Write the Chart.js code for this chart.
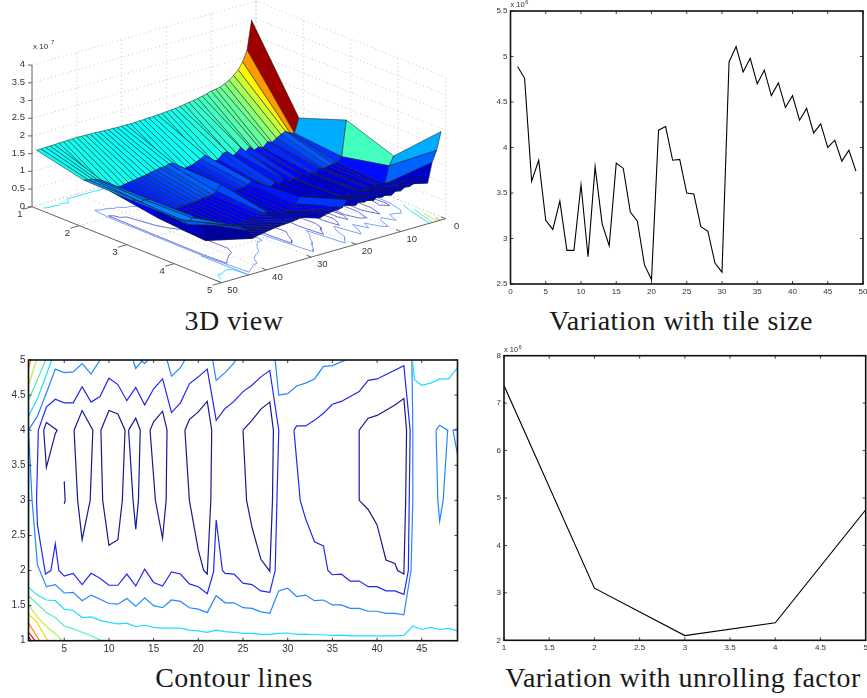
<!DOCTYPE html>
<html>
<head>
<meta charset="utf-8">
<title>Tile size and unrolling factor</title>
<script src="https://cdn.jsdelivr.net/npm/chart.js@4"></script>
<style>
  html, body { margin: 0; background: #fff; overflow: hidden; }
  #page { position: relative; width: 867px; height: 698px; }
  canvas { position: absolute; filter: blur(0.35px); }
  .caption { position: absolute; font-family: "Liberation Serif", serif; font-size: 28px; letter-spacing: 0.45px; color: #1a1a1a; white-space: nowrap; transform: translateX(-50%); }
</style>
</head>
<body>
<div id="page">
  <canvas id="view3d" width="470" height="300" style="left:0;top:0"></canvas>
  <canvas id="tileChart" width="377" height="300" style="left:490px;top:0"></canvas>
  <canvas id="contourChart" width="470" height="315" style="left:0;top:345px"></canvas>
  <canvas id="unrollChart" width="387" height="320" style="left:480px;top:340px"></canvas>
  <div class="caption" style="left:234px;top:305px">3D view</div>
  <div class="caption" style="left:681px;top:305px">Variation with tile size</div>
  <div class="caption" style="left:234px;top:662px">Contour lines</div>
  <div class="caption" style="left:683px;top:662px">Variation with unrolling factor</div>
</div>
<script>
// line plots, values in units of 1e6
const tileValues = [4.89, 4.76, 3.63, 3.86, 3.2, 3.1, 3.41, 2.87, 2.87, 3.59, 2.8, 3.79, 3.16, 2.92, 3.83, 3.77, 3.29, 3.19, 2.71, 2.55,
    4.19, 4.23, 3.86, 3.87, 3.5, 3.49, 3.13, 3.08, 2.73, 2.63, 4.94, 5.11, 4.83, 4.98, 4.7, 4.85, 4.57, 4.71, 4.44, 4.57,
    4.3, 4.43, 4.16, 4.26, 4.0, 4.08, 3.85, 3.97, 3.74]
const tileXTicks = [0, 5, 10, 15, 20, 25, 30, 35, 40, 45, 50]
const tileYTicks = [2.5, 3, 3.5, 4, 4.5, 5, 5.5]

const unrollFactors = [1, 2, 3, 4, 5]
const unrollValues = [7.37, 3.1, 2.1, 2.37, 4.75]
const unrollXTicks = [1, 1.5, 2, 2.5, 3, 3.5, 4, 4.5, 5]
const unrollYTicks = [2, 3, 4, 5, 6, 7, 8]

// surface heights in units of 1e7, one list per unrolling factor, tile size 1 to 49
const surfaceRow1 = [3.5, 2.69, 2.39, 2.2, 2.08, 1.98, 1.92, 1.86, 1.84, 1.82, 1.78, 1.75, 1.72, 1.7, 1.68, 1.66, 1.64, 1.62, 1.61, 1.6,
    1.59, 1.58, 1.57, 1.57, 1.56, 1.56, 1.55, 1.55, 1.55, 1.55, 1.55, 1.56, 1.56, 1.57, 1.57, 1.58, 1.58, 1.59, 1.59, 1.6,
    1.59, 1.59, 1.58, 1.58, 1.57, 1.57, 1.57, 1.56, 1.56]
const surfaceRow2 = [1.27, 0.875, 0.92, 1.0, 0.95, 0.88, 0.8, 0.85, 0.72, 0.78, 0.72, 0.85, 0.74, 0.9, 0.78, 0.72, 0.9, 0.88, 0.75, 0.72,
    0.68, 0.98, 0.9, 0.85, 0.8, 0.78, 0.75, 0.72, 1.0, 1.02, 0.98, 0.98, 0.95, 0.93, 0.9, 0.88, 0.86, 0.84, 0.82, 0.8,
    0.78, 0.76, 0.72, 0.85, 1.1, 1.15, 1.2, 1.22, 1.25]
const surfaceRow3 = [1.75, 0.75, 0.62, 0.62, 0.6, 0.56, 0.6, 0.5, 0.54, 0.48, 0.58, 0.48, 0.54, 0.46, 0.58, 0.48, 0.56, 0.48, 0.54, 0.52,
    0.54, 0.78, 0.72, 0.68, 0.66, 0.64, 0.62, 0.6, 0.95, 0.78, 0.72, 0.7, 0.7, 0.68, 0.66, 0.66, 0.64, 0.64, 0.62, 0.62,
    0.6, 0.6, 0.5, 0.85, 1.1, 1.12, 1.1, 1.18, 1.22]
const surfaceRow4 = [1.27, 1.03, 0.55, 0.56, 0.6, 0.54, 0.58, 0.52, 0.56, 0.5, 0.6, 0.5, 0.56, 0.48, 0.58, 0.5, 0.62, 0.54, 0.6, 0.56,
    0.6, 0.88, 0.72, 0.66, 0.6, 0.58, 0.56, 0.54, 0.68, 0.7, 0.7, 0.68, 0.64, 0.62, 0.6, 0.58, 0.56, 0.55, 0.55, 0.54,
    0.52, 0.5, 0.4, 0.92, 1.12, 1.15, 1.0, 1.15, 1.22]
const surfaceRow5 = [2.5, 2.0, 1.7, 1.15, 1.36, 1.3, 1.25, 1.2, 1.22, 1.15, 1.2, 1.1, 1.2, 1.12, 1.2, 1.1, 1.2, 1.12, 1.22, 1.1,
    1.3, 1.33, 1.15, 1.12, 1.12, 1.1, 1.08, 1.03, 1.25, 1.22, 1.2, 1.2, 1.18, 1.16, 1.15, 1.14, 1.13, 1.12, 1.1, 1.08,
    1.06, 1.04, 1.0, 1.25, 1.35, 1.45, 1.5, 1.55, 1.6]
const surfaceRows = [surfaceRow1, surfaceRow2, surfaceRow3, surfaceRow4, surfaceRow5]

const view3dXTicks = [1, 2, 3, 4, 5]
const view3dYTicks = [0, 10, 20, 30, 40, 50]
const view3dZTicks = [0, 0.5, 1, 1.5, 2, 2.5, 3, 3.5, 4]

// contour lines as [tile size, unrolling factor]
const contourDarkRed = [[1, 1.06], [1.3, 1]]
const contourRed = [[1, 1.12], [1.75, 1]]
const contourOrange = [[1, 1.25], [2.25, 1]]
const contourOrangeTop = [[1.25, 5], [1, 4.88]]
const contourYellow = [[1, 1.38], [2, 1.25], [3.15, 1]]
const contourLime = [[1, 1.51], [2, 1.34], [3, 1.2], [4, 1.1], [4.8, 1]]
const contourLimeTop = [[1.9, 5], [1, 4.64]]
const contourMint = [[1, 1.64], [2, 1.52], [3, 1.4], [4, 1.33], [5, 1.21], [6, 1.17], [7, 1.12], [8, 1.07], [9, 1.01], [10, 1]]
const contourMintTop = [[2.9, 5], [2, 4.72], [1, 4.43]]
const contourCyan = [[1, 1.76], [2, 1.65], [3, 1.58], [4, 1.57], [5, 1.45], [6, 1.43], [7, 1.33], [8, 1.34], [9, 1.29], [10, 1.26],
    [11, 1.24], [12, 1.25], [13, 1.2], [14, 1.22], [15, 1.19], [16, 1.18], [17, 1.18], [18, 1.18], [19, 1.15], [20, 1.14],
    [21, 1.12], [22, 1.15], [23, 1.13], [24, 1.12], [25, 1.105], [26, 1.105], [27, 1.09], [28, 1.09], [29, 1.105], [30, 1.11],
    [31, 1.09], [32, 1.095], [33, 1.085], [34, 1.085], [35, 1.075], [36, 1.08], [37, 1.07], [38, 1.07], [39, 1.07], [40, 1.07],
    [41, 1.07], [42, 1.07], [43, 1.075], [44, 1.21], [45, 1.16], [46, 1.19], [47, 1.16], [48, 1.175], [49, 1.14]]
const contourCyanTop = [[3.6, 5], [3, 4.79], [2, 4.45], [1, 4.2]]
const contourCyanSide = [[1, 3.46], [1.05, 3], [1, 2.55]]
const contourCyanRight = [[43.95, 5], [44.2, 4.72], [45, 4.64], [46, 4.67], [47, 4.73], [48, 4.73], [49, 4.89]]
const contourAzure = [[9, 5], [8, 4.8], [7, 4.95], [6, 4.83], [5, 4.82], [4, 4.87], [3, 4.53], [2, 4.2], [1, 4], [1.4, 3], [2, 2.08], [3, 1.77], [4, 1.8],
    [5, 1.68], [6, 1.69], [7, 1.57], [8, 1.65], [9, 1.59], [10, 1.53], [11, 1.52], [12, 1.6], [13, 1.49], [14, 1.61],
    [15, 1.5], [16, 1.47], [17, 1.58], [18, 1.56], [19, 1.47], [20, 1.45], [21, 1.4], [22, 1.64], [23, 1.54], [24, 1.54],
    [25, 1.47], [26, 1.46], [27, 1.41], [28, 1.39], [29, 1.71], [30, 1.75], [31, 1.63], [32, 1.65], [33, 1.57], [34, 1.58],
    [35, 1.51], [36, 1.51], [37, 1.46], [38, 1.46], [39, 1.42], [40, 1.42], [41, 1.39], [42, 1.39], [43, 1.37], [43.8, 2],
    [44, 3], [44, 4], [43.9, 5]]
const contourAzureA = [[12.7, 5], [13, 4.88], [13.8, 5]]
const contourAzureB = [[13.5, 5], [14, 4.95], [14.4, 5]]
const contourAzureC = [[16.5, 5], [17, 4.77], [18, 4.89], [18.5, 5]]
const contourAzureD = [[21.6, 5], [22, 4.71], [23, 4.82], [24, 4.96], [24.2, 5]]
const contourAzureE = [[28.6, 5], [29, 4.5], [30, 4.52], [31, 4.63], [32, 4.67], [33, 4.73], [34, 4.91], [35, 4.92], [36.5, 5]]
const contourAzureF = [[46.6, 4], [47, 4.07], [47.9, 4], [47.4, 3], [47, 2.7], [46.8, 3], [46.6, 4]]
const contourAzureG = [[49, 4.02], [48.5, 4], [49, 3.65]]
const contourDeep = [[2.1, 4], [3, 4.33], [4, 4.44], [5, 4.39], [6, 4.39], [7, 4.62], [8, 4.4], [9, 4.48], [10, 4.74], [11, 4.65],
    [12, 4.42], [13, 4.61], [14, 4.36], [15, 4.59], [16, 4.73], [17, 4.25], [18, 4.39], [19, 4.66], [20, 4.76], [21, 4.87],
    [22, 4.14], [23, 4.31], [24, 4.41], [25, 4.55], [26, 4.64], [27, 4.76], [28, 4.85], [29, 4], [28.8, 3], [28.6, 2],
    [28, 1.69], [27, 1.71], [26, 1.8], [25, 1.82], [24, 1.95], [23, 1.96], [22.7, 2], [22, 2.72], [21.7, 1.98], [21, 1.67],
    [20, 1.77], [19, 1.81], [18, 1.95], [17, 1.98], [16, 1.78], [15, 1.83], [14, 2.02], [13, 1.78], [12, 1.95], [11, 1.79],
    [10, 1.79], [9, 1.89], [8, 1.96], [7, 1.8], [6, 1.96], [5, 1.92], [4.4, 2], [4, 2.38], [3.5, 2], [2.9, 1.95],
    [2, 2.65], [1.9, 3], [2.1, 4]]
const contourDeepRight = [[30.7, 4], [31, 4.06], [32, 4.06], [33, 4.14], [34, 4.24], [35, 4.37], [36, 4.41], [38, 4.55], [39, 4.71], [40, 4.73],
    [43, 4.92], [43.7, 4], [43.6, 3], [43.5, 2], [43, 1.66], [42, 1.71], [41, 1.71], [40, 1.77], [39, 1.77], [38, 1.85],
    [37, 1.85], [36, 1.95], [35, 1.94], [34.5, 2], [34, 2.35], [33, 2.41], [32, 2.74], [31.4, 3], [30.7, 4]]
const contourNavy1 = [[2.7, 4], [3, 4.11], [4.2, 4], [4, 3.95], [3, 3.47], [2.7, 4]]
const contourNavy2 = [[5, 3.27], [5.1, 3], [5, 2.95]]
const contourNavy3 = [[6.1, 4], [7, 4.28], [8.2, 4], [7.9, 3], [7, 2.44], [6.5, 3], [6.1, 4]]
const contourNavy4 = [[9.1, 4], [10, 4.28], [11, 4.23], [11.8, 4], [11.5, 3], [11, 2.44], [10, 2.36], [9.3, 3], [9.1, 4]]
const contourNavy5 = [[12.2, 4], [13, 4.17], [13.5, 4], [13.3, 3], [13, 2.59], [12.7, 3], [12.2, 4]]
const contourNavy6 = [[14.6, 4], [15, 4.12], [16, 4.27], [16.5, 4], [16.4, 3], [16, 2.46], [15.2, 3], [14.6, 4]]
const contourNavy7 = [[18.5, 4], [19, 4.15], [20, 4.26], [21, 4.41], [21.5, 4], [21.4, 3], [21, 1.95], [20.6, 2], [20, 2.29], [19, 3], [18.5, 4]]
const contourNavy8 = [[25, 4], [26, 4.14], [27, 4.3], [28, 4.4], [28.4, 4], [28.3, 3], [28, 1.99], [27, 2.16], [26, 2.62], [25.4, 3], [25, 4]]
const contourNavy9 = [[38, 4], [39, 4.17], [40, 4.21], [42, 4.36], [43, 4.45], [43.3, 4], [43.2, 3], [43, 1.95], [42.3, 2], [42, 2.1],
    [41, 2.15], [40, 2.65], [39, 2.87], [38, 3], [38, 4]]
const contourXTicks = [5, 10, 15, 20, 25, 30, 35, 40, 45]
const contourYTicks = [1, 1.5, 2, 2.5, 3, 3.5, 4, 4.5, 5]

const DARKRED = '#8a0000', RED = '#f01010', ORANGE = '#ff8000', YELLOW = '#ffd800', LIME = '#b8f040',
    MINT = '#50f0b0', CYAN = '#20dcff', AZURE = '#2088ff', DEEP = '#2028f0', NAVY = '#181890'

const contourLines = [
    [contourDarkRed, DARKRED], [contourRed, RED], [contourOrange, ORANGE], [contourOrangeTop, ORANGE], [contourYellow, YELLOW],
    [contourLime, LIME], [contourLimeTop, LIME], [contourMint, MINT], [contourMintTop, MINT],
    [contourCyan, CYAN], [contourCyanTop, CYAN], [contourCyanSide, CYAN], [contourCyanRight, CYAN],
    [contourAzure, AZURE], [contourAzureA, AZURE], [contourAzureB, AZURE], [contourAzureC, AZURE], [contourAzureD, AZURE],
    [contourAzureE, AZURE], [contourAzureF, AZURE], [contourAzureG, AZURE],
    [contourDeep, DEEP], [contourDeepRight, DEEP],
    [contourNavy1, NAVY], [contourNavy2, NAVY], [contourNavy3, NAVY], [contourNavy4, NAVY], [contourNavy5, NAVY],
    [contourNavy6, NAVY], [contourNavy7, NAVY], [contourNavy8, NAVY], [contourNavy9, NAVY]
]

// the floor of the 3D view has fewer levels than the contour plot, in paler colours
const FLOOR_DEEP = '#6a98ff', FLOOR_NAVY = '#6262cc'
const floorLines = [
    [contourMintTop, MINT], [contourLimeTop, LIME], [contourOrangeTop, ORANGE], [contourCyanTop, CYAN],
    [contourCyan, CYAN], [contourCyanRight, CYAN], [contourAzure.slice(-2), FLOOR_DEEP],
    [contourDeep, FLOOR_DEEP], [contourDeepRight, FLOOR_DEEP],
    [contourNavy1, FLOOR_NAVY], [contourNavy3, FLOOR_NAVY], [contourNavy4, FLOOR_NAVY], [contourNavy5, FLOOR_NAVY],
    [contourNavy6, FLOOR_NAVY], [contourNavy7, FLOOR_NAVY], [contourNavy8, FLOOR_NAVY], [contourNavy9, FLOOR_NAVY]
]

const AXIS_FONT = '"Liberation Sans", Arial, sans-serif'
const LABEL_COLOR = '#333'

// axes have a set size so the plot box lands where it should
const linearAxis = (min, max, ticks, fontSize, padding, prop, size) => ({
    type: 'linear', min, max,
    grid: {display: false, drawTicks: false},
    border: {display: false},
    ticks: {color: LABEL_COLOR, font: {family: AXIS_FONT, size: fontSize}, padding, autoSkip: false, maxRotation: 0,
        callback: v => String(v)},
    afterBuildTicks: s => { s.ticks = ticks.map(v => ({value: v})) },
    afterFit: s => {
        s[prop] = size
        s.paddingLeft = s.paddingRight = s.paddingTop = s.paddingBottom = 0
    }
})

// matlab style box: border and inward ticks on all four sides, plus the x 10^6 note
const boxPlugin = (tickLen, borderWidth, hasNote) => ({
    id: 'box',
    afterDraw(chart) {
        const {ctx, chartArea: a, scales: {x, y}} = chart
        ctx.save()
        ctx.strokeStyle = '#111'
        ctx.lineWidth = 0.8
        ctx.beginPath()
        x.ticks.forEach(t => {
            const p = x.getPixelForValue(t.value)
            ctx.moveTo(p, a.bottom); ctx.lineTo(p, a.bottom - tickLen)
            ctx.moveTo(p, a.top); ctx.lineTo(p, a.top + tickLen)
        })
        y.ticks.forEach(t => {
            const p = y.getPixelForValue(t.value)
            ctx.moveTo(a.left, p); ctx.lineTo(a.left + tickLen, p)
            ctx.moveTo(a.right, p); ctx.lineTo(a.right - tickLen, p)
        })
        ctx.stroke()
        ctx.lineWidth = borderWidth
        ctx.strokeRect(a.left, a.top, a.right - a.left, a.bottom - a.top)
        if (hasNote) {
            ctx.fillStyle = LABEL_COLOR
            ctx.textBaseline = 'alphabetic'
            ctx.font = '7.5px ' + AXIS_FONT
            ctx.fillText('x 10', a.left, a.top - 4)
            const w = ctx.measureText('x 10').width
            ctx.font = '5.5px ' + AXIS_FONT
            ctx.fillText('6', a.left + w + 0.5, a.top - 7)
        }
        ctx.restore()
    }
})

const lineChart = (id, xs, ys, xAxis, yAxis, padding) => new Chart(document.getElementById(id), {
    type: 'scatter',
    data: {datasets: [{
        data: ys.map((v, i) => ({x: xs[i], y: v})),
        showLine: true, borderColor: '#000', borderWidth: 1.1, pointRadius: 0, tension: 0
    }]},
    options: {
        responsive: false, animation: false,
        layout: {padding},
        plugins: {legend: {display: false}, tooltip: {enabled: false}},
        scales: {x: xAxis, y: yAxis}
    },
    plugins: [boxPlugin(3, 1.6, true)]
})

lineChart('tileChart', tileValues.map((v, i) => i + 1), tileValues,
    linearAxis(0, 50, tileXTicks, 8, 3, 'height', 16), linearAxis(2.5, 5.5, tileYTicks, 8, 3, 'width', 20.5),
    {left: 0, top: 11, right: 4, bottom: 0})

lineChart('unrollChart', unrollFactors, unrollValues,
    linearAxis(1, 5, unrollXTicks, 8, 3, 'height', 19.7), linearAxis(2, 8, unrollYTicks, 8, 3, 'width', 24),
    {left: 0, top: 15.7, right: 1.3, bottom: 0})

new Chart(document.getElementById('contourChart'), {
    type: 'scatter',
    data: {datasets: contourLines.map(([line, color]) => ({
        data: line.map(([t, u]) => ({x: t, y: u})),
        showLine: true, borderColor: color, borderWidth: 1.2, pointRadius: 0, tension: 0
    }))},
    options: {
        responsive: false, animation: false,
        layout: {padding: {left: 0, top: 15, right: 12.5, bottom: 0}},
        plugins: {legend: {display: false}, tooltip: {enabled: false}},
        scales: {
            x: linearAxis(1, 49, contourXTicks, 10, 3, 'height', 19.3),
            y: linearAxis(1, 5, contourYTicks, 10, 3, 'width', 28.5)
        }
    },
    plugins: [boxPlugin(3, 1.6, false)]
})

// 3D view: orthographic projection onto the two hidden scales of the chart
const VIEW = {left: 32, base: 206.7, xdx: 47.4, xdy: 19, ydx: 4.48, ydy: -1.28, zdy: 35.4}
const project = (x, y, z) => ({
    x: VIEW.left + (x - 1) * VIEW.xdx + (50 - y) * VIEW.ydx,
    y: VIEW.base + (x - 1) * VIEW.xdy + (50 - y) * VIEW.ydy - z * VIEW.zdy
})

const COLOR_MIN = 0.3
const COLOR_MAX = 3.6
const clamp01 = v => Math.min(1, Math.max(0, v))
const jet = t => {
    const r = clamp01(1.5 - Math.abs(4 * t - 3)), g = clamp01(1.5 - Math.abs(4 * t - 2)), b = clamp01(1.5 - Math.abs(4 * t - 1))
    return `rgb(${Math.round(r * 255)},${Math.round(g * 255)},${Math.round(b * 255)})`
}

const gridLine = (a, b) => ({
    data: [a, b], showLine: true, borderColor: '#b8b8b8', borderWidth: 0.8, borderDash: [1, 3], pointRadius: 0
})
const axisLine = (a, b) => ({
    data: [a, b], showLine: true, borderColor: '#666', borderWidth: 1, pointRadius: 0
})

const backDatasets = []
// walls and floor
view3dZTicks.forEach(z => {
    backDatasets.push(gridLine(project(1, 50, z), project(1, 0, z)))
    backDatasets.push(gridLine(project(1, 0, z), project(5, 0, z)))
})
view3dYTicks.forEach(y => {
    backDatasets.push(gridLine(project(1, y, 0), project(1, y, 4)))
    backDatasets.push(gridLine(project(1, y, 0), project(5, y, 0)))
})
view3dXTicks.forEach(x => {
    backDatasets.push(gridLine(project(x, 0, 0), project(x, 0, 4)))
    backDatasets.push(gridLine(project(x, 0, 0), project(x, 50, 0)))
})
// contours on the floor
floorLines.forEach(([line, color]) => backDatasets.push({
    data: line.map(([t, u]) => project(u, t, 0)),
    showLine: true, borderColor: color, borderWidth: 0.9, pointRadius: 0
}))
// visible axes
backDatasets.push(axisLine(project(1, 50, 0), project(1, 50, 4)))
backDatasets.push(axisLine(project(1, 50, 0), project(5, 50, 0)))
backDatasets.push(axisLine(project(5, 50, 0), project(5, 0, 0)))
view3dZTicks.forEach(z => {
    const p = project(1, 50, z)
    backDatasets.push(axisLine(p, {x: p.x - 4, y: p.y}))
})
view3dXTicks.forEach(x => backDatasets.push(axisLine(project(x, 50, 0), project(x, 52, 0))))
view3dYTicks.forEach(y => backDatasets.push(axisLine(project(5, y, 0), project(4.9, y, 0))))

// surface faces, far ones painted first; a face takes the colour of its far corner
const faceDatasets = []
for (let i = 0; i < surfaceRows.length - 1; i++) {
    for (let j = 0; j < surfaceRows[i].length - 1; j++) {
        const corners = [
            project(i + 1, j + 1, surfaceRows[i][j]),
            project(i + 2, j + 1, surfaceRows[i + 1][j]),
            project(i + 2, j + 2, surfaceRows[i + 1][j + 1]),
            project(i + 1, j + 2, surfaceRows[i][j + 1])
        ]
        const color = jet((surfaceRows[i][j] - COLOR_MIN) / (COLOR_MAX - COLOR_MIN))
        faceDatasets.push({
            data: [...corners, corners[0]],
            showLine: true, fill: 'shape', backgroundColor: color,
            borderColor: 'rgba(20,30,40,0.75)', borderWidth: 0.7, pointRadius: 0, tension: 0
        })
    }
}

// chart.js paints the first dataset last
const view3dDatasets = [...backDatasets, ...faceDatasets].reverse()

const view3dLabels = {
    id: 'view3dLabels',
    afterDraw(chart) {
        const {ctx, scales: {x: sx, y: sy}} = chart
        const toPixel = p => ({x: sx.getPixelForValue(p.x), y: sy.getPixelForValue(p.y)})
        ctx.save()
        ctx.fillStyle = LABEL_COLOR
        ctx.font = '9.5px ' + AXIS_FONT
        ctx.textBaseline = 'middle'
        ctx.textAlign = 'right'
        view3dZTicks.forEach(z => {
            const p = toPixel(project(1, 50, z))
            ctx.fillText(String(z), p.x - 7, p.y - 0.5)
        })
        ctx.textAlign = 'center'
        view3dXTicks.forEach(x => {
            const p = toPixel(project(x, 50, 0))
            ctx.fillText(String(x), p.x - 12, p.y + 7.5)
        })
        view3dYTicks.forEach(y => {
            const p = toPixel(project(5, y, 0))
            ctx.fillText(String(y), p.x + 11, p.y + 7.5)
        })
        ctx.textAlign = 'left'
        ctx.textBaseline = 'alphabetic'
        ctx.font = '8px ' + AXIS_FONT
        ctx.fillText('x 10', 33, 49)
        ctx.font = '6px ' + AXIS_FONT
        ctx.fillText('7', 51, 44)
        ctx.restore()
    }
}

new Chart(document.getElementById('view3d'), {
    type: 'scatter',
    data: {datasets: view3dDatasets},
    options: {
        responsive: false, animation: false,
        layout: {padding: 0},
        plugins: {legend: {display: false}, tooltip: {enabled: false}},
        scales: {
            x: {type: 'linear', display: false, min: 0, max: 470},
            y: {type: 'linear', display: false, min: 0, max: 300, reverse: true}
        }
    },
    plugins: [view3dLabels]
})
</script>
</body>
</html>
